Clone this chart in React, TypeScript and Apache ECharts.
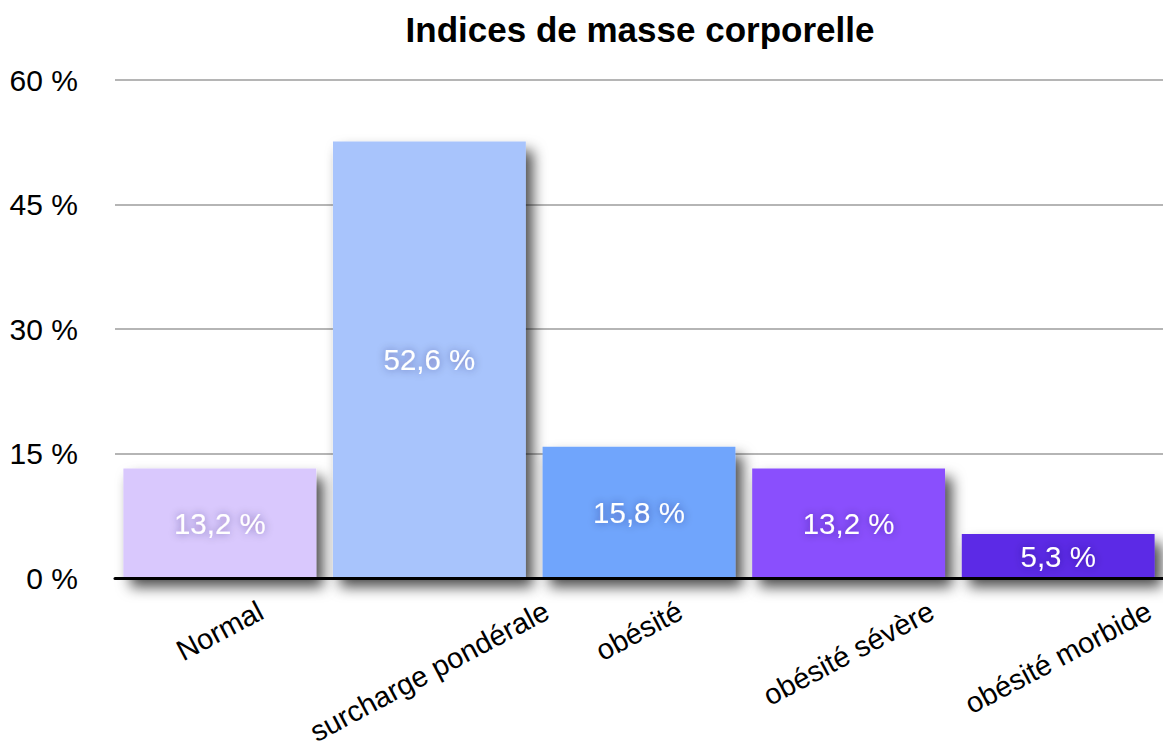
import React, { useEffect, useRef } from "react";
import * as echarts from "echarts";

const categories = ["Normal", "surcharge pondérale", "obésité", "obésité sévère", "obésité morbide"];
const values = [13.2, 52.6, 15.8, 13.2, 5.3];
const barColors = ["#d9c8fd", "#a8c4fc", "#70a5fc", "#8a4ffd", "#5c2be6"];
const yTicks = { min: 0, max: 60, interval: 15 };
const title = "Indices de masse corporelle";

const FONT = "'Liberation Sans', Arial, Helvetica, sans-serif";
const LABEL_SIZE = 29;
const ROT = 28;

function measure(text: string, size: number): number {
  const c = document.createElement("canvas");
  const ctx = c.getContext("2d");
  if (!ctx) return text.length * size * 0.5;
  ctx.font = `${size}px ${FONT}`;
  return ctx.measureText(text).width;
}

export default function App() {
  const ref = useRef<HTMLDivElement>(null);
  useEffect(() => {
    if (!ref.current) return;
    const chart = echarts.init(ref.current, null, { renderer: "svg" });
    const rad = (ROT * Math.PI) / 180;
    const sin = Math.sin(rad);
    const cos = Math.cos(rad);
    // rotated labels hang below the axis with their bounding-box tops aligned
    const topGap = 22; // px from axis line to top of rotated label box
    const visH = 20;
    const boxH = LABEL_SIZE;
    const catData = categories.map((c) => {
      const w = measure(c, LABEL_SIZE);
      const s = topGap + (w * sin + visH * cos) / 2; // screen downward offset of label centre
      const pr = 2 * s * sin;
      const pt = Math.max(0, s * cos - boxH / 2);
      return {
        value: c,
        textStyle: {
          align: "center",
          verticalAlign: "top",
          padding: [pt, pr, 0, 0],
        },
      };
    });
    chart.setOption({
      animation: false,
      backgroundColor: "#ffffff",
      title: {
        text: title,
        left: 635,
        top: 7,
        textAlign: "center",
        textStyle: { fontFamily: FONT, fontSize: 35, fontWeight: "bold", color: "#000" },
      },
      grid: {
        left: 115,
        right: 0,
        top: 80,
        bottom: 171,
        containLabel: false,
        outerBoundsMode: "none",
      },
      xAxis: {
        type: "category",
        data: catData,
        z: 5,
        axisLine: { show: true, lineStyle: { color: "#000", width: 3 } },
        axisTick: { show: false },
        axisLabel: {
          interval: 0,
          rotate: ROT,
          align: "center",
          verticalAlign: "top",
          margin: 0,
          fontFamily: FONT,
          fontSize: LABEL_SIZE,
          color: "#000",
        },
      },
      yAxis: {
        type: "value",
        min: yTicks.min,
        max: yTicks.max,
        interval: yTicks.interval,
        axisLine: { show: false },
        axisTick: { show: false },
        splitLine: { lineStyle: { color: "#b5b5b5", width: 2 } },
        axisLabel: {
          formatter: "{value} %",
          margin: 37,
          fontFamily: FONT,
          fontSize: 30,
          color: "#000",
        },
      },
      series: [
        {
          type: "bar",
          barCategoryGap: "8%",
          data: values.map((v, i) => ({
            value: v,
            itemStyle: { color: barColors[i] },
          })),
          itemStyle: {
            shadowBlur: 14,
            shadowOffsetX: 7,
            shadowOffsetY: 9,
            shadowColor: "rgba(0,0,0,0.7)",
          },
          label: {
            show: true,
            position: "inside",
            fontFamily: FONT,
            fontSize: 29.5,
            color: "#ffffff",
            textShadowColor: "rgba(40,20,80,0.45)",
            textShadowBlur: 8,
            formatter: (p: any) => p.value.toFixed(1).replace(".", ",") + " %",
          },
        },
      ],
    });
    return () => chart.dispose();
  }, []);
  return (
    <div
      ref={ref}
      style={{ position: "absolute", left: 0, top: 0, width: 1163, height: 749 }}
    />
  );
}
